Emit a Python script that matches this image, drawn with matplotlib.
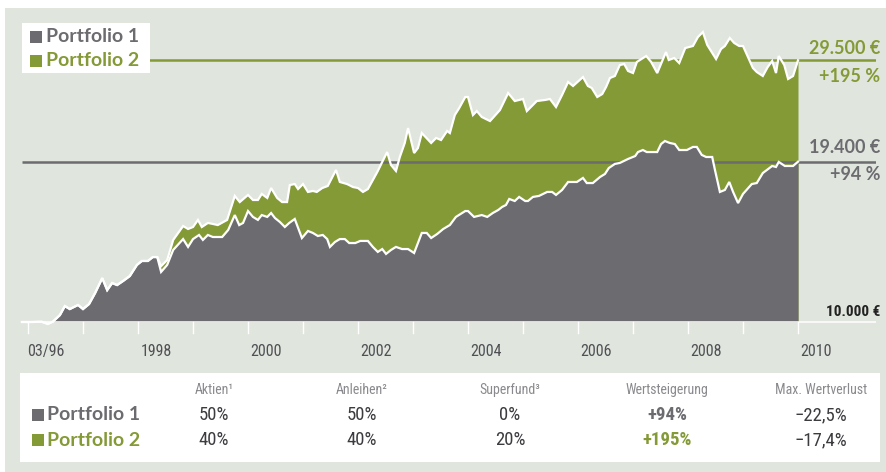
import numpy as np
import matplotlib
matplotlib.use("Agg")
import matplotlib.pyplot as plt
from matplotlib.patches import Rectangle

# --- data (decimal years, value in EUR, start 10.000) ---
p1_dates = [1995.89, 1996.07, 1996.25, 1996.36, 1996.45, 1996.58, 1996.67, 1996.76,
            1996.91, 1997.00, 1997.11, 1997.22, 1997.35, 1997.44, 1997.53, 1997.62,
            1997.73, 1997.85, 1997.98, 1998.07, 1998.18, 1998.27, 1998.35, 1998.42,
            1998.53, 1998.64, 1998.82, 1998.91, 1999.00, 1999.11, 1999.18, 1999.27,
            1999.36, 1999.53, 1999.64, 1999.76, 1999.84, 1999.91, 2000.00, 2000.09,
            2000.18, 2000.25, 2000.35, 2000.42, 2000.49, 2000.58, 2000.67, 2000.75,
            2000.85, 2000.98, 2001.09, 2001.18, 2001.27, 2001.36, 2001.44, 2001.49,
            2001.58, 2001.67, 2001.76, 2001.84, 2001.95, 2002.04, 2002.18, 2002.27,
            2002.36, 2002.44, 2002.51, 2002.60, 2002.69, 2002.80, 2002.91, 2003.02,
            2003.16, 2003.25, 2003.33, 2003.44, 2003.55, 2003.67, 2003.78, 2003.95,
            2004.00, 2004.11, 2004.25, 2004.35, 2004.45, 2004.55, 2004.62, 2004.69,
            2004.75, 2004.85, 2004.93, 2005.04, 2005.09, 2005.18, 2005.29, 2005.44,
            2005.53, 2005.60, 2005.71, 2005.82, 2005.98, 2006.09, 2006.16, 2006.27,
            2006.40, 2006.49, 2006.56, 2006.67, 2006.76, 2006.91, 2007.04, 2007.09,
            2007.18, 2007.25, 2007.44, 2007.51, 2007.58, 2007.67, 2007.76, 2007.84,
            2007.98, 2008.09, 2008.16, 2008.25, 2008.33, 2008.44, 2008.49, 2008.58,
            2008.67, 2008.75, 2008.82, 2008.91, 2009.00, 2009.16, 2009.25, 2009.36,
            2009.53, 2009.60, 2009.65, 2009.76, 2009.91, 2010.00]
p1_values = [10000, 10000, 10010, 9920, 10010, 10290, 10680, 10550,
             10730, 10550, 10770, 11270, 11990, 11410, 11750, 11650,
             11850, 12090, 12660, 12870, 12870, 13080, 13080, 12300,
             12660, 13470, 14090, 13640, 14090, 14330, 14040, 14330,
             14210, 14210, 14630, 15560, 14930, 15060, 15820, 15440,
             15250, 15560, 15440, 15690, 15370, 15120, 14810, 15060,
             15310, 14150, 14570, 14450, 14270, 14330, 14090, 13640,
             13920, 14090, 14090, 13860, 13860, 13980, 13980, 13640,
             13360, 13520, 13250, 13470, 13640, 13520, 13520, 13300,
             14450, 14450, 14150, 14390, 14690, 14930, 15440, 15820,
             15820, 15440, 15560, 15440, 15690, 15890, 16090, 16220,
             16630, 16490, 16770, 16490, 16490, 16770, 16840, 17120,
             17120, 16910, 17260, 17840, 17840, 18140, 17760, 17760,
             18210, 18440, 18900, 19220, 19300, 19620, 19860, 20190,
             20360, 20190, 20190, 20870, 21130, 20960, 20870, 20360,
             20360, 20620, 20620, 19950, 19780, 19780, 18750, 17120,
             17260, 17840, 17120, 16350, 16980, 17690, 17760, 18510,
             19060, 18980, 19380, 19060, 19060, 19400]

p2_dates = [1995.89, 1996.07, 1996.25, 1996.36, 1996.45, 1996.58, 1996.67, 1996.76,
            1996.91, 1997.00, 1997.11, 1997.22, 1997.35, 1997.44, 1997.53, 1997.62,
            1997.73, 1997.85, 1997.98, 1998.07, 1998.18, 1998.27, 1998.35, 1998.42,
            1998.53, 1998.64, 1998.82, 1998.91, 1999.00, 1999.09, 1999.16, 1999.27,
            1999.36, 1999.45, 1999.62, 1999.76, 1999.85, 2000.00, 2000.09, 2000.18,
            2000.25, 2000.35, 2000.42, 2000.53, 2000.62, 2000.71, 2000.76, 2000.85,
            2000.91, 2001.00, 2001.09, 2001.18, 2001.25, 2001.35, 2001.45, 2001.60,
            2001.67, 2001.80, 2001.91, 2002.00, 2002.09, 2002.18, 2002.35, 2002.53,
            2002.60, 2002.69, 2002.76, 2002.85, 2002.91, 2003.02, 2003.09, 2003.16,
            2003.33, 2003.42, 2003.51, 2003.62, 2003.67, 2003.76, 2003.84, 2003.95,
            2004.00, 2004.09, 2004.16, 2004.25, 2004.40, 2004.58, 2004.73, 2004.85,
            2005.00, 2005.07, 2005.25, 2005.40, 2005.49, 2005.60, 2005.71, 2005.82,
            2005.91, 2006.09, 2006.18, 2006.25, 2006.35, 2006.44, 2006.51, 2006.58,
            2006.67, 2006.76, 2006.84, 2006.91, 2007.00, 2007.07, 2007.24, 2007.33,
            2007.44, 2007.60, 2007.65, 2007.75, 2007.84, 2007.95, 2008.09, 2008.18,
            2008.27, 2008.35, 2008.44, 2008.51, 2008.60, 2008.67, 2008.76, 2008.84,
            2008.93, 2009.00, 2009.09, 2009.18, 2009.25, 2009.36, 2009.45, 2009.53,
            2009.60, 2009.65, 2009.75, 2009.82, 2009.91, 2010.00]
p2_values = [10000, 10000, 10010, 9920, 10010, 10290, 10680, 10550,
             10730, 10550, 10770, 11270, 11990, 11410, 11750, 11650,
             11850, 12090, 12660, 12870, 12870, 13080, 13080, 12600,
             12920, 14040, 14870, 14690, 14810, 15250, 14810, 15060,
             15000, 14930, 15250, 16840, 16420, 16910, 16560, 16560,
             16980, 16700, 17400, 16700, 16420, 16420, 17620, 17690,
             17330, 17690, 17120, 17190, 17120, 17400, 17550, 18750,
             17840, 17690, 17470, 17400, 17120, 17330, 18590, 20190,
             19140, 18670, 19780, 20960, 22300, 20110, 20530, 21840,
             20960, 21400, 21220, 22030, 21840, 23530, 24220, 25350,
             25350, 23530, 23920, 23340, 22950, 24020, 25770, 24930,
             25140, 23920, 24930, 25040, 25140, 24320, 25560, 26970,
             26530, 27530, 26530, 26310, 25350, 25660, 26420, 27420,
             27650, 28930, 29050, 28230, 27990, 29300, 30030, 29300,
             27990, 30530, 29540, 29780, 29170, 31040, 31300, 32480,
             33160, 31430, 30410, 29660, 30910, 31300, 32350, 31690,
             31300, 31300, 29910, 28580, 28110, 27650, 28700, 29420,
             27990, 30030, 28930, 27310, 27650, 29500]

year_ticks = list(range(1996, 2011))
year_labels = ["03/96", "1998", "2000", "2002", "2004", "2006", "2008", "2010"]
year_label_pos = [1996, 1998, 2000, 2002, 2004, 2006, 2008, 2010]

end_values = [29500, 19400]
end_labels = [("29.500 €", "+195 %"), ("19.400 €", "+94 %")]

portfolios = ["Portfolio 1", "Portfolio 2"]
table_header = ["Aktien¹", "Anleihen²", "Superfund³", "Wertsteigerung", "Max. Wertverlust"]
table_rows = [["50%", "50%", "0%", "+94%", "−22,5%"],
              ["40%", "40%", "20%", "+195%", "−17,4%"]]

GREY = "#6b6b70"
GREEN = "#849a37"
BG = "#e0e5dd"
W, H = 886, 472

narrow = ["Roboto Condensed", "Liberation Sans Narrow", "Roboto", "DejaVu Sans"]
bold = ["Lato", "DejaVu Sans"]

fig = plt.figure(figsize=(W / 100, H / 100), dpi=100)
fig.patch.set_facecolor("white")


def fx(px):
    return px / W


def fy(py):
    return 1 - py / H


# background panel
fig.patches.append(Rectangle((fx(5), 0), 1 - fx(5), fy(8), transform=fig.transFigure,
                             facecolor=BG, edgecolor="none", zorder=0))

# chart axes: 1996 at px 28, 55 px per year; log y with 10.000 at py 322, 557 px per decade
ax_l, ax_r, ax_t, ax_b = 14, 876, 8, 340
ax = fig.add_axes([fx(ax_l), fy(ax_b), fx(ax_r - ax_l), (ax_b - ax_t) / H])
ax.set_zorder(2)
ax.set_facecolor("none")
ax.patch.set_alpha(0)
ax.set_xlim(1996 + (ax_l - 28) / 55, 1996 + (ax_r - 28) / 55)
ax.set_yscale("log")
ax.set_ylim(10 ** (4 - (ax_b - 322) / 557), 10 ** (4 + (322 - ax_t) / 557))
ax.axis("off")

d1, v1 = np.array(p1_dates), np.array(p1_values)
d2, v2 = np.array(p2_dates), np.array(p2_values)

ax.fill_between(d2, 10000, np.maximum(v2, 10000), color=GREEN, lw=0, zorder=1)
ax.fill_between(d1, 10000, np.maximum(v1, 10000), color=GREY, lw=0, zorder=2)

x0 = 1996 + (22 - 28) / 55
x1 = 1996 + (880 - 28) / 55
ax.plot([x0, x1], [end_values[0]] * 2, color=GREEN, lw=1.8, zorder=3, solid_capstyle="butt")
ax.plot([x0, x1], [end_values[1]] * 2, color=GREY, lw=1.8, zorder=3, solid_capstyle="butt")
ax.plot([x0, x1], [10000, 10000], color="white", lw=1.1, zorder=3)

ax.plot(d2, v2, color="white", lw=1.6, zorder=4, solid_joinstyle="miter")
ax.plot(d1, v1, color="white", lw=1.6, zorder=4, solid_joinstyle="miter")

# year ticks, labels sit a little right of their tick
ybot = 10 ** (4 - 11 / 557)
for yr in year_ticks:
    ax.plot([yr, yr], [10000, ybot], color="white", lw=1, zorder=3)
for pos, lab in zip(year_label_pos, year_labels):
    ax.text(pos + 0.33, 10 ** (4 - 30 / 557), lab, ha="center", va="center",
            fontsize=11.5, color="#505055", family=narrow)

ax.text(x1, 10 ** (4 + 10 / 557), "10.000 €", ha="right", va="center",
        fontsize=11, fontweight="bold", color="#222222", family=narrow)

# end value labels
ax.text(x1, 10 ** (4 + (322 - 49) / 557), end_labels[0][0], ha="right", va="center",
        fontsize=13, fontweight="bold", color=GREEN, family=bold)
ax.text(x1, 10 ** (4 + (322 - 77) / 557), end_labels[0][1], ha="right", va="center",
        fontsize=13, fontweight="bold", color=GREEN, family=bold)
ax.text(x1, 10 ** (4 + (322 - 148) / 557), end_labels[1][0], ha="right", va="center",
        fontsize=13, fontweight="bold", color=GREY, family=bold)
ax.text(x1, 10 ** (4 + (322 - 175) / 557), end_labels[1][1], ha="right", va="center",
        fontsize=13, fontweight="bold", color=GREY, family=bold)

# legend box (above the chart axes)
fig.patches.append(Rectangle((fx(22), fy(73)), fx(128), 50 / H, transform=fig.transFigure,
                             facecolor="white", edgecolor="none", zorder=5))
for i, (name, col) in enumerate(zip(portfolios, [GREY, GREEN])):
    yc = 37 + 24 * i
    fig.patches.append(Rectangle((fx(30), fy(yc + 6)), fx(12), 12 / H,
                                 transform=fig.transFigure, facecolor=col,
                                 edgecolor="none", zorder=6))
    fig.text(fx(46), fy(yc), name, ha="left", va="center", fontsize=14,
             fontweight="bold", color=col, family=bold, zorder=7)

# table
fig.patches.append(Rectangle((fx(20), fy(462)), fx(860), 89 / H, transform=fig.transFigure,
                             facecolor="white", edgecolor="none", zorder=5))
col_x = [214, 362, 510, 667, 821]
for cx, head in zip(col_x, table_header):
    fig.text(fx(cx), fy(390), head, ha="center", va="center", fontsize=10,
             color="#8a8a8e", family=narrow, zorder=7)
for r, (name, col, row) in enumerate(zip(portfolios, [GREY, GREEN], table_rows)):
    yc = 415 + 25 * r
    fig.patches.append(Rectangle((fx(32), fy(yc + 6)), fx(12), 12 / H,
                                 transform=fig.transFigure, facecolor=col,
                                 edgecolor="none", zorder=6))
    fig.text(fx(47), fy(yc), name, ha="left", va="center", fontsize=14,
             fontweight="bold", color=col, family=bold, zorder=7)
    for c, (cx, val) in enumerate(zip(col_x, row)):
        if c == 3:
            fig.text(fx(cx), fy(yc), val, ha="center", va="center", fontsize=13.5,
                     fontweight="bold", color=col, family=narrow, zorder=7)
        else:
            fig.text(fx(cx), fy(yc), val, ha="center", va="center", fontsize=13.5,
                     color="#3c3c40", family=narrow, zorder=7)

fig.savefig("out.png", dpi=100, facecolor="white")
